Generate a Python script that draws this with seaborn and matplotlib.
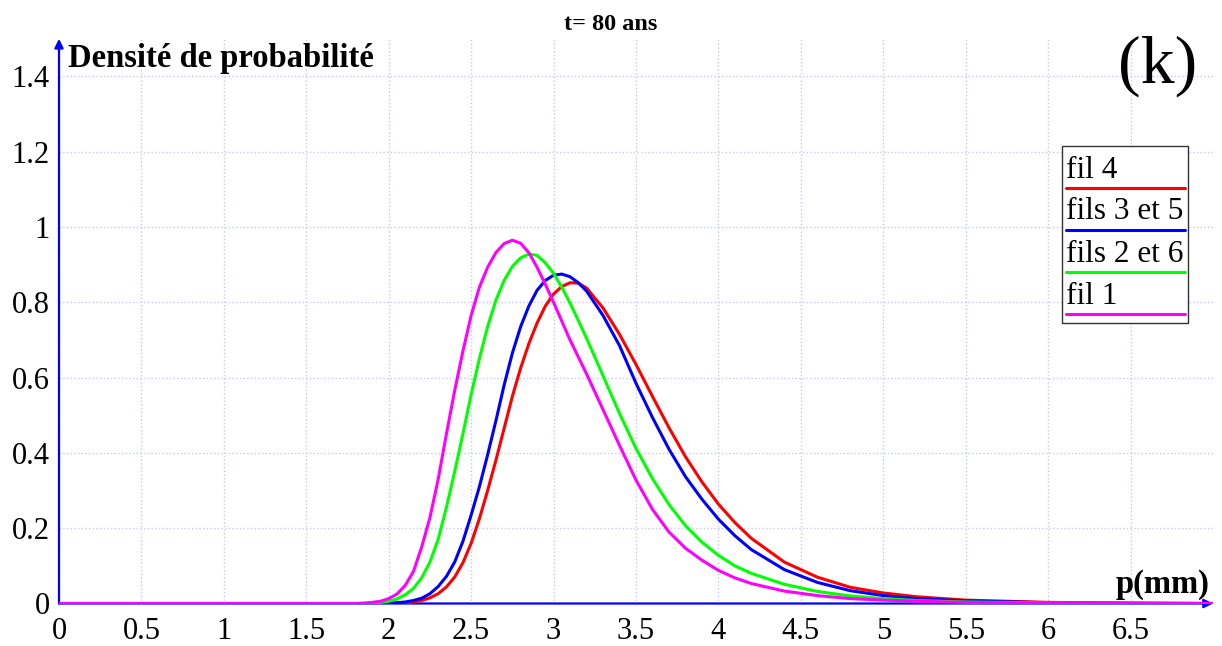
import matplotlib
matplotlib.use("Agg")
import matplotlib.pyplot as plt
from matplotlib.patches import Rectangle
from matplotlib.lines import Line2D
import numpy as np
import pandas as pd
import seaborn as sns

# Diameter of the pits p (mm) and probability density per wire group, at t = 80 years
p = [0.0, 1.8, 1.85, 1.9, 1.95, 2.0, 2.05, 2.1, 2.15, 2.2, 2.25, 2.3, 2.35, 2.4,
     2.45, 2.5, 2.55, 2.6, 2.65, 2.7, 2.75, 2.8, 2.85, 2.9, 2.95, 3.0, 3.05, 3.1,
     3.15, 3.2, 3.3, 3.4, 3.5, 3.6, 3.7, 3.8, 3.9, 4.0, 4.1, 4.2, 4.4, 4.6, 4.8,
     5.0, 5.2, 5.5, 6.0, 6.5, 7.0]

fil_4 = [0, 0, 0, 0, 0, 0, 0.001, 0.002, 0.004, 0.008, 0.015, 0.026, 0.044, 0.07,
         0.108, 0.16, 0.225, 0.30, 0.38, 0.465, 0.55, 0.625, 0.69, 0.745, 0.79,
         0.822, 0.842, 0.852, 0.851, 0.838, 0.785, 0.715, 0.635, 0.55, 0.467,
         0.39, 0.323, 0.264, 0.215, 0.173, 0.11, 0.07, 0.043, 0.028, 0.018,
         0.009, 0.003, 0.001, 0]

fils_3_5 = [0, 0, 0, 0, 0.001, 0.001, 0.002, 0.004, 0.008, 0.014, 0.026, 0.045,
            0.072, 0.11, 0.165, 0.235, 0.31, 0.395, 0.485, 0.58, 0.665, 0.735,
            0.79, 0.832, 0.858, 0.872, 0.875, 0.868, 0.852, 0.83, 0.765, 0.685,
            0.585, 0.494, 0.41, 0.337, 0.277, 0.224, 0.18, 0.143, 0.09, 0.056,
            0.034, 0.021, 0.013, 0.007, 0.002, 0.0007, 0]

fils_2_6 = [0, 0, 0, 0.001, 0.003, 0.006, 0.012, 0.023, 0.04, 0.068, 0.11, 0.17,
            0.255, 0.35, 0.45, 0.555, 0.65, 0.735, 0.805, 0.858, 0.895, 0.918,
            0.928, 0.925, 0.905, 0.877, 0.84, 0.798, 0.752, 0.705, 0.605, 0.505,
            0.412, 0.332, 0.263, 0.207, 0.163, 0.128, 0.10, 0.08, 0.051, 0.032,
            0.02, 0.013, 0.008, 0.004, 0.0015, 0.0005, 0]

fil_1 = [0, 0, 0.001, 0.003, 0.006, 0.013, 0.025, 0.048, 0.085, 0.15, 0.228, 0.33,
         0.45, 0.565, 0.67, 0.765, 0.84, 0.893, 0.932, 0.956, 0.965, 0.957,
         0.932, 0.893, 0.848, 0.80, 0.75, 0.70, 0.655, 0.61, 0.515, 0.42,
         0.328, 0.25, 0.19, 0.147, 0.115, 0.088, 0.068, 0.053, 0.033, 0.021,
         0.013, 0.009, 0.006, 0.003, 0.001, 0.0003, 0]

labels = ["fil 4", "fils 3 et 5", "fils 2 et 6", "fil 1"]
colors = ["#ff0000", "#0000ff", "#00ff00", "#ff00ff"]
series = [fil_4, fils_3_5, fils_2_6, fil_1]

x_ticks = [0, 0.5, 1, 1.5, 2, 2.5, 3, 3.5, 4, 4.5, 5, 5.5, 6, 6.5]
x_tick_labels = ["0", "0.5", "1", "1.5", "2", "2.5", "3", "3.5", "4", "4.5",
                 "5", "5.5", "6", "6.5"]
y_ticks = [0, 0.2, 0.4, 0.6, 0.8, 1.0, 1.2, 1.4]
y_tick_labels = ["0", "0.2", "0.4", "0.6", "0.8", "1", "1.2", "1.4"]

df = pd.concat(
    [pd.DataFrame({"p": p, "densite": v, "groupe": lab})
     for lab, v in zip(labels, series)],
    ignore_index=True,
)

sns.set_style("white")
plt.rcParams["font.family"] = ["Liberation Serif", "DejaVu Serif"]
plt.rcParams["text.color"] = "black"
plt.rcParams["axes.labelcolor"] = "black"
plt.rcParams["xtick.color"] = "black"
plt.rcParams["ytick.color"] = "black"

W, H = 1222, 646
fig = plt.figure(figsize=(W / 100, H / 100), dpi=100)
ax = fig.add_axes([59 / W, 1 - 603.5 / H, (1213 - 59) / W, (603.5 - 38.8) / H])

sns.lineplot(data=df, x="p", y="densite", hue="groupe", hue_order=labels,
             palette=dict(zip(labels, colors)), estimator=None, sort=False,
             linewidth=2.2, legend=False, ax=ax, zorder=5)

ax.set_xlim(0, 7)
ax.set_ylim(0, 1.5)
ax.set_xticks(x_ticks)
ax.set_xticklabels(x_tick_labels)
ax.set_yticks(y_ticks)
ax.set_yticklabels(y_tick_labels)
ax.set_xlabel("")
ax.set_ylabel("")

ax.grid(True, color="#c8c8f8", linestyle=":", linewidth=1.0)
ax.set_axisbelow(True)
for s in ax.spines.values():
    s.set_visible(False)

ax.tick_params(axis="x", direction="inout", length=12, width=1.4, color="blue",
               labelsize=22, pad=4, labelcolor="black")
ax.tick_params(axis="y", direction="inout", length=11, width=1.4, color="blue",
               labelsize=22, pad=1, labelcolor="black")

# Blue axes with arrow heads
arrow = dict(arrowstyle="-|>", color="blue", lw=1.6, mutation_scale=13,
             shrinkA=0, shrinkB=0)
ax.annotate("", xy=(1.0, 0), xytext=(0, 0), xycoords="axes fraction",
            textcoords="axes fraction", arrowprops=arrow, annotation_clip=False,
            zorder=4)
ax.annotate("", xy=(0, 1.0), xytext=(0, 0), xycoords="axes fraction",
            textcoords="axes fraction", arrowprops=arrow, annotation_clip=False,
            zorder=4)

# Texts
fig.text(0.5, 1 - 25 / H, "t= 80 ans", ha="center", va="center",
         fontsize=17.5, fontweight="bold", color="black")
fig.text(68 / W, 1 - 59 / H, "Densité de probabilité", ha="left",
         va="center", fontsize=23.5, fontweight="bold", color="black")
fig.text(1209 / W, 1 - 584 / H, "p(mm)", ha="right", va="center",
         fontsize=23.5, fontweight="bold", color="black")
fig.text(1158 / W, 1 - 66 / H, "(k)", ha="center", va="center", fontsize=49,
         color="black")

# Legend box: label above a coloured line segment
box_l, box_r, box_t, box_b = 1062, 1188, 146, 323
fig.add_artist(Rectangle((box_l / W, 1 - box_b / H), (box_r - box_l) / W,
                         (box_b - box_t) / H, transform=fig.transFigure,
                         facecolor="white", edgecolor="#333333", lw=1.0,
                         zorder=10))
line_y = [187.5, 229.5, 271.5, 313.5]
for lab, col, ly in zip(labels, colors, line_y):
    fig.add_artist(Line2D([1066 / W, 1185 / W], [1 - ly / H, 1 - ly / H],
                          transform=fig.transFigure, color=col, lw=2.2,
                          zorder=11))
    fig.text(1066 / W, 1 - (ly - 10) / H, lab, ha="left", va="baseline",
             fontsize=22.5, zorder=12, color="black")

fig.savefig("out.png", dpi=100)
